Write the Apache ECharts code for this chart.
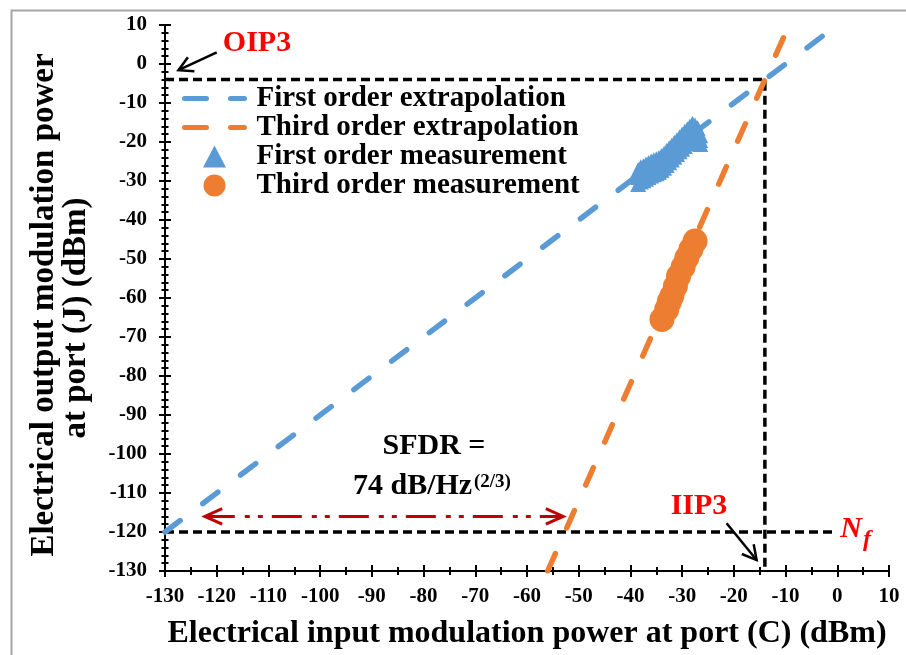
<!DOCTYPE html>
<html>
<head>
<meta charset="utf-8">
<script src="https://cdn.jsdelivr.net/npm/echarts@6/dist/echarts.min.js"></script>
<style>
html, body { margin: 0; padding: 0; background: #fff; }
#main { width: 906px; height: 655px; }
</style>
</head>
<body>
<div id="main"></div>
<script>
// axis ticks
var axisMin = -130;
var axisMax = 10;
var axisStep = 10;

// extrapolation lines (end points)
var firstFitX = [-130, -2.8];
var firstFitY = [-120, 7.2];
var thirdFitX = [-56, -10.3];
var thirdFitY = [-130, 7.1];

// first order measurement (triangles), three traces over the same input powers
var firstMeasX = [-38.5, -38, -37.5, -37, -36.5, -36, -35.5, -35, -34.5, -34, -33.5, -33, -32.5, -32, -31.5, -31, -30.5, -30, -29.5, -29, -28.5, -28, -27.5, -27, -26.5];
var firstMeasLow = [-30.8, -30.1, -29.8, -29.4, -29.0, -28.6, -28.3, -28.0, -27.7, -27.2, -26.6, -25.9, -25.2, -24.5, -23.8, -23.1, -22.4, -21.7, -21.0, -20.3, -19.6, -18.9, -18.4, -19.5, -20.5];
var firstMeasMid = [-29, -28.3, -28, -27.6, -27.2, -26.8, -26.5, -26.2, -25.9, -25.4, -24.8, -24.1, -23.4, -22.7, -22, -21.3, -20.6, -19.9, -19.2, -18.5, -17.8, -17.1, -16.6, -18, -19.5];
var firstMeasHigh = [-27.2, -26.5, -26.2, -25.8, -25.4, -25.0, -24.7, -24.4, -24.1, -23.6, -23.0, -22.3, -21.6, -20.9, -20.2, -19.5, -18.8, -18.1, -17.4, -16.7, -16.0, -15.3, -15.8, -16.5, -18.3];

// third order measurement (circles)
var thirdMeasX = [-33.9, -33, -32.5, -32, -31.3, -30.7, -29.8, -29.1, -28.3, -27.5];
var thirdMeasY = [-65.5, -63, -61, -59.5, -57, -54.4, -52, -49.7, -47.5, -45.4];

// helper lines OIP3 / IIP3 and noise floor
var ip3X = [-130, -14, -14];
var ip3Y = [-4, -4, -130];
var nfX = [-130, -1];
var nfY = [-120, -120];

// arrows [x1, y1, x2(tip), y2(tip)]
var sfdrArrow = [[-122.3, -116, -53, -116]];
var labelArrows = [[-120, 3, -127.4, -1.6], [-21.4, -117.75, -15.6, -127.2]];

var serif = "'Times New Roman', 'Liberation Serif', serif";
var blue = '#5B9BD5';
var orange = '#ED7D31';

function pairs(xs, ys) {
    var out = [];
    for (var i = 0; i < xs.length; i++) {
        out.push([xs[i], ys[i]]);
    }
    return out;
}

function head(tip, from, len, ang) {
    var a = Math.atan2(from[1] - tip[1], from[0] - tip[0]);
    return [
        [tip[0] + len * Math.cos(a + ang), tip[1] + len * Math.sin(a + ang)],
        tip,
        [tip[0] + len * Math.cos(a - ang), tip[1] + len * Math.sin(a - ang)]
    ];
}

function arrowItem(both, color, width, dash, len, ang) {
    return function (params, api) {
        var p1 = api.coord([api.value(0), api.value(1)]);
        var p2 = api.coord([api.value(2), api.value(3)]);
        var kids = [
            {type: 'line', shape: {x1: p1[0], y1: p1[1], x2: p2[0], y2: p2[1]},
                style: {stroke: color, lineWidth: width, lineDash: dash}},
            {type: 'polyline', shape: {points: head(p2, p1, len, ang)},
                style: {stroke: color, lineWidth: width, fill: null}}
        ];
        if (both) {
            kids.push({type: 'polyline', shape: {points: head(p1, p2, len, ang)},
                style: {stroke: color, lineWidth: width, fill: null}});
        }
        return {type: 'group', children: kids};
    };
}

var labelFont = {color: '#000', fontFamily: serif, fontWeight: 'bold', fontSize: 21};

function makeX(main) {
    return {
        type: 'value', min: axisMin, max: axisMax, interval: axisStep, position: 'bottom',
        name: main ? 'Electrical input modulation power at port (C) (dBm)' : '',
        nameLocation: 'middle', nameGap: 47, nameMoveOverlap: false,
        nameTextStyle: {color: '#000', fontFamily: serif, fontWeight: 'bold', fontSize: 32},
        axisLine: {show: main, onZero: false, lineStyle: {color: '#000', width: 2}},
        axisTick: {show: true, inside: !main, length: 6, lineStyle: {color: '#000', width: 2}},
        minorTick: {show: true, splitNumber: 2, length: 4, lineStyle: {color: '#000', width: 2}},
        axisLabel: main ? Object.assign({margin: 15}, labelFont) : {show: false},
        splitLine: {show: false}
    };
}

function makeY(main) {
    return {
        type: 'value', min: axisMin, max: axisMax, interval: axisStep, position: 'left',
        axisLine: {show: main, onZero: false, lineStyle: {color: '#000', width: 2}},
        axisTick: {show: true, inside: !main, length: 6, lineStyle: {color: '#000', width: 2}},
        minorTick: {show: true, splitNumber: 5, length: 3.5, lineStyle: {color: '#000', width: 2}},
        axisLabel: main ? Object.assign({margin: 18}, labelFont) : {show: false},
        splitLine: {show: false}
    };
}

var noDot = {color: 'rgba(0,0,0,0)', borderWidth: 0, opacity: 0};

var chart = echarts.init(document.getElementById('main'));

var option = {
    backgroundColor: '#fff',
    animation: false,
    grid: {left: 165, right: 17, top: 25, bottom: 84, containLabel: false, outerBoundsMode: 'none'},
    xAxis: [makeX(true), makeX(false)],
    yAxis: [makeY(true), makeY(false)],
    legend: {
        orient: 'vertical', left: 182, top: 84, padding: 0, itemGap: 0,
        itemWidth: 60, itemHeight: 22, symbolKeepAspect: true,
        textStyle: {color: '#000', fontFamily: serif, fontWeight: 'bold', fontSize: 29,
            lineHeight: 28, padding: [0, 0, 0, 7]},
        data: [
            {name: 'First order extrapolation', itemStyle: noDot,
                lineStyle: {width: 5, type: [22, 24], cap: 'round'}},
            {name: 'Third order extrapolation', itemStyle: noDot,
                lineStyle: {width: 5, type: [22, 24], cap: 'round'}},
            {name: 'First order measurement', icon: 'path://M11.5,0 L23,22 L0,22 Z'},
            {name: 'Third order measurement', icon: 'circle'}
        ]
    },
    series: [
        {
            name: 'ip3 guide', type: 'line', data: pairs(ip3X, ip3Y), symbol: 'none', z: 1,
            lineStyle: {color: '#000', width: 3.5, type: [9, 5]}
        },
        {
            name: 'nf guide', type: 'line', data: pairs(nfX, nfY), symbol: 'none', z: 1,
            lineStyle: {color: '#000', width: 3.5, type: [9, 5]}
        },
        {
            name: 'First order measurement', type: 'scatter',
            data: pairs(firstMeasX, firstMeasLow).concat(pairs(firstMeasX, firstMeasMid), pairs(firstMeasX, firstMeasHigh)),
            symbol: 'triangle', symbolSize: 16, itemStyle: {color: blue, opacity: 1}, z: 3
        },
        {
            name: 'Third order measurement', type: 'scatter', data: pairs(thirdMeasX, thirdMeasY),
            symbol: 'circle', symbolSize: 25, itemStyle: {color: orange, opacity: 1}, z: 3
        },
        {
            name: 'First order extrapolation', type: 'line', data: pairs(firstFitX, firstFitY),
            symbol: 'none', showSymbol: false, z: 4, color: blue,
            lineStyle: {color: blue, width: 5.5, type: [19, 28.3], cap: 'round'}
        },
        {
            name: 'Third order extrapolation', type: 'line', data: pairs(thirdFitX, thirdFitY),
            symbol: 'none', showSymbol: false, z: 4, color: orange,
            lineStyle: {color: orange, width: 5.5, type: [19, 28], cap: 'round'}
        },
        {
            name: 'sfdr arrow', type: 'custom', data: sfdrArrow, z: 5,
            renderItem: arrowItem(true, '#C00000', 3, [30, 10, 5, 8, 5, 9], 19, 0.42)
        },
        {
            name: 'label arrows', type: 'custom', data: labelArrows, z: 5,
            renderItem: arrowItem(false, '#000', 2.5, null, 16, 0.5)
        }
    ],
    graphic: [
        {type: 'rect', left: 9, top: 8, z: -10, silent: true,
            shape: {width: 1000, height: 1000},
            style: {fill: null, stroke: '#A6A6A6', lineWidth: 2}},
        {type: 'text', x: 44, y: 305, rotation: Math.PI / 2,
            style: {text: 'Electrical output modulation power', fill: '#000', font: 'bold 33px ' + serif,
                align: 'center', verticalAlign: 'middle'}},
        {type: 'text', x: 76, y: 318, rotation: Math.PI / 2,
            style: {text: 'at port (J) (dBm)', fill: '#000', font: 'bold 33px ' + serif,
                align: 'center', verticalAlign: 'middle'}},
        {type: 'text', x: 257, y: 43,
            style: {text: 'OIP3', fill: '#FF0000', font: 'bold 30px ' + serif,
                align: 'center', verticalAlign: 'middle'}},
        {type: 'text', x: 699, y: 506,
            style: {text: 'IIP3', fill: '#FF0000', font: 'bold 30px ' + serif,
                align: 'center', verticalAlign: 'middle'}},
        {type: 'text', x: 434, y: 446,
            style: {text: 'SFDR =', fill: '#000', font: 'bold 30px ' + serif,
                align: 'center', verticalAlign: 'middle'}},
        {type: 'text', x: 353, y: 486,
            style: {text: '74 dB/Hz', fill: '#000', font: 'bold 30px ' + serif,
                align: 'left', verticalAlign: 'middle'}},
        {type: 'text', x: 474, y: 482,
            style: {text: '(2/3)', fill: '#000', font: 'bold 19px ' + serif,
                align: 'left', verticalAlign: 'middle'}},
        {type: 'text', x: 851, y: 529,
            style: {text: 'N', fill: '#FF0000', font: 'italic bold 30px ' + serif,
                align: 'center', verticalAlign: 'middle'}},
        {type: 'text', x: 867, y: 540,
            style: {text: 'f', fill: '#FF0000', font: 'italic bold 24px ' + serif,
                align: 'center', verticalAlign: 'middle'}}
    ]
};

chart.setOption(option);
</script>
</body>
</html>
